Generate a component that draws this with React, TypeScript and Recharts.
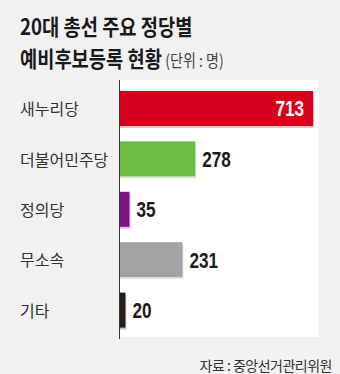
import React from 'react';
import { BarChart, Bar, XAxis, YAxis, Cell, LabelList } from 'recharts';

// 20대 총선 주요 정당별 예비후보등록 현황 (단위: 명)
const parties = ['새누리당', '더불어민주당', '정의당', '무소속', '기타'];
const candidates = [713, 278, 35, 231, 20];
const barColors = ['#d6001c', '#6dbd45', '#7c1580', '#a3a3a3', '#2a1a17'];
const xDomain = [0, 735];

const data = parties.map((name, i) => ({ name, value: candidates[i] }));

const KR = '"Noto Sans CJK KR", "Noto Sans", sans-serif';
const NUM = '"Liberation Sans", Arial, sans-serif';

const PartyTick = ({ y, payload }: any) => (
  <text x={20} y={y} dominantBaseline="central" textAnchor="start"
    fontSize={16} fill="#333" fontFamily={KR}>
    {payload.value}
  </text>
);

const ShadowBar = ({ x, y, width, height, fill }: any) => (
  <g>
    <rect x={x} y={y + 2} width={width + 1} height={height} fill={fill} opacity={0.25} />
    <rect x={x} y={y} width={width} height={height} fill={fill} />
  </g>
);

// condensed bold numbers, squeezed horizontally
const ValueLabel = ({ x, y, width, height, value }: any) => {
  const inside = width > 150;
  const tx = inside ? x + width - 9 : x + width + 7;
  return (
    <text
      transform={`translate(${tx},${y + height / 2}) scale(0.78,1)`}
      dominantBaseline="central"
      textAnchor={inside ? 'end' : 'start'}
      fontSize={22}
      fontWeight="bold"
      fontFamily={NUM}
      fill={inside ? '#fff' : '#1a1a1a'}
    >
      {value}
    </text>
  );
};

export default function App() {
  return (
    <div style={{ position: 'absolute', left: 0, top: 0, width: 340, height: 374, background: '#f1f1f1', overflow: 'hidden' }}>
      <div style={{
        position: 'absolute', left: 20, top: 9, fontFamily: KR, fontWeight: 'bold', color: '#1a1a1a',
        fontSize: 22, lineHeight: '32px', whiteSpace: 'nowrap',
        transform: 'scaleX(0.85)', transformOrigin: 'left top',
      }}>
        <div>20대 총선 주요 정당별</div>
        <div>
          예비후보등록 현황
          <span style={{ fontWeight: 'normal', fontSize: 16.5, color: '#444', marginLeft: 4 }}>(단위 : 명)</span>
        </div>
      </div>

      <div style={{ position: 'absolute', left: 120, top: 80, width: 199, height: 257, background: '#fff' }} />
      <div style={{ position: 'absolute', left: 118.5, top: 80, width: 1.2, height: 259, background: '#333' }} />

      <div style={{ position: 'absolute', left: 0, top: 80 }}>
        <BarChart width={340} height={258} data={data} layout="vertical"
          margin={{ top: 3, right: 21, left: 0, bottom: 3 }}>
          <XAxis type="number" domain={xDomain} hide />
          <YAxis type="category" dataKey="name" width={120} axisLine={false} tickLine={false} tick={<PartyTick />} />
          <Bar dataKey="value" barSize={35} shape={<ShadowBar />} isAnimationActive={false}>
            {data.map((d, i) => <Cell key={d.name} fill={barColors[i]} />)}
            <LabelList dataKey="value" content={<ValueLabel />} />
          </Bar>
        </BarChart>
      </div>

      <div style={{ position: 'absolute', right: 8, top: 358, fontFamily: KR, fontSize: 14, lineHeight: '14px', color: '#333', letterSpacing: -0.5, whiteSpace: 'nowrap' }}>
        자료 : 중앙선거관리위원
      </div>
    </div>
  );
}
